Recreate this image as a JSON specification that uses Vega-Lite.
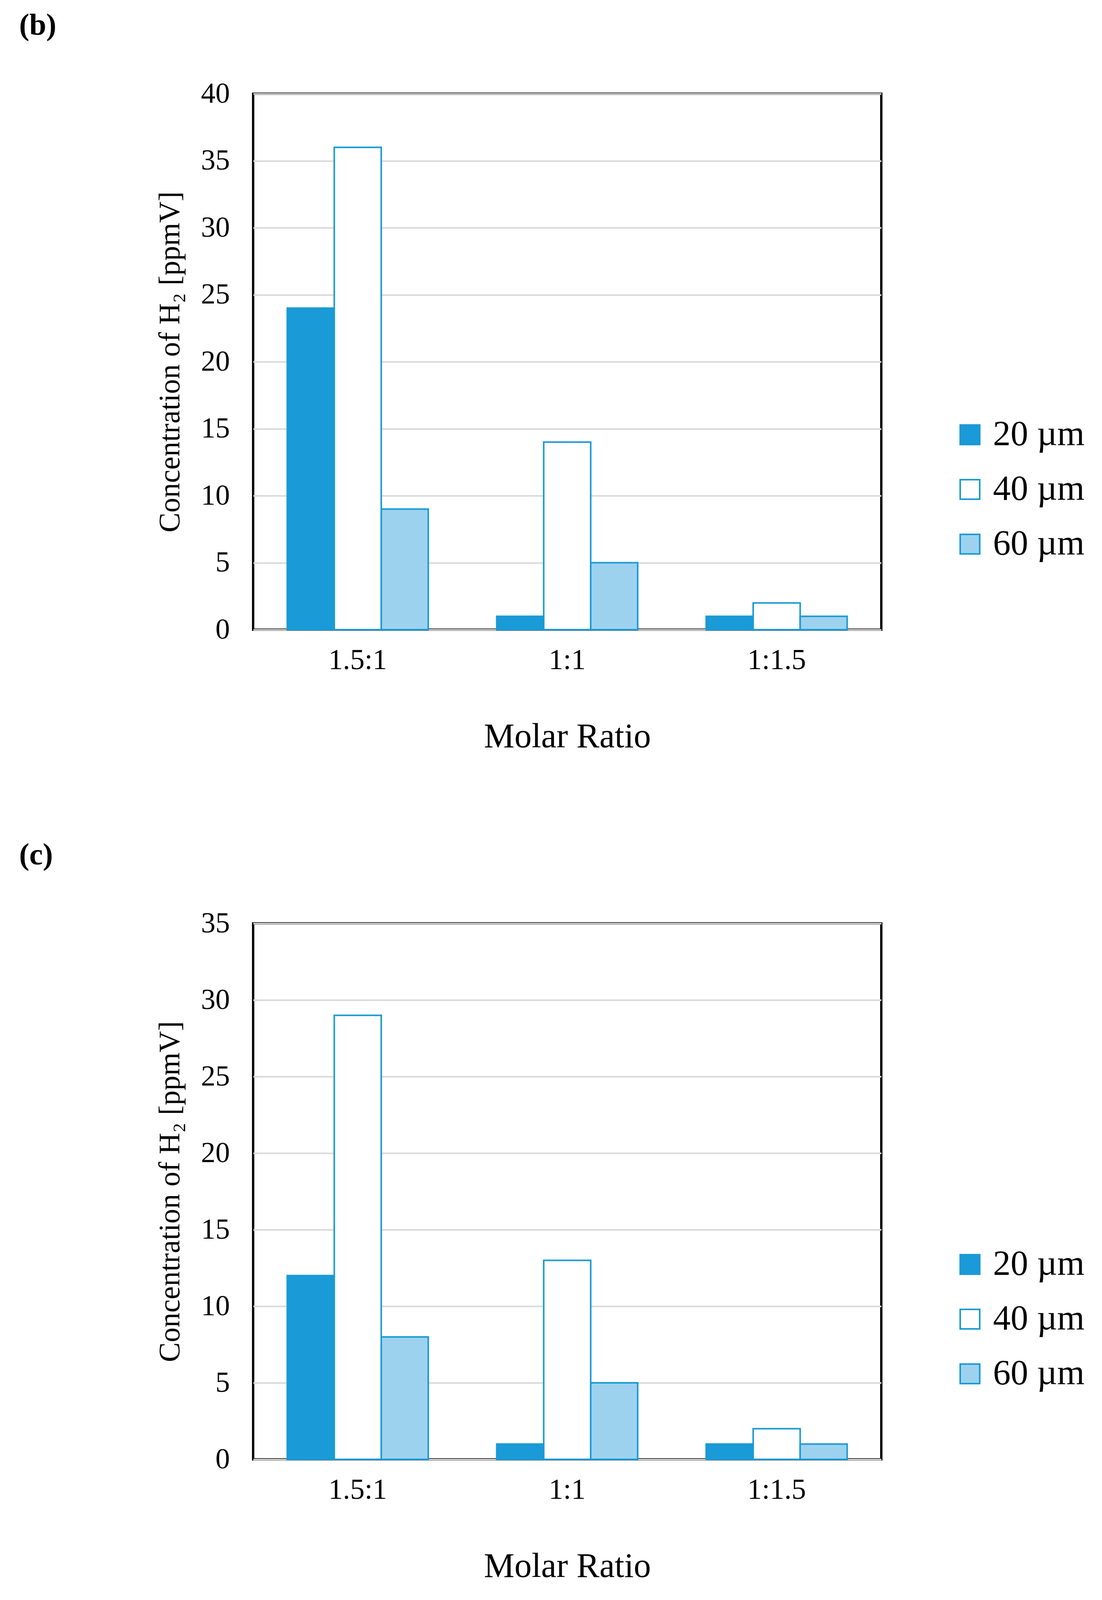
{
  "$schema": "https://vega.github.io/schema/vega-lite/v6.json",
  "background": "white",
  "padding": {"left": 46, "top": 24, "right": 0, "bottom": 0},
  "autosize": {"type": "pad"},
  "spacing": 215,
  "config": {
    "font": "Liberation Serif",
    "view": {"stroke": "black", "strokeWidth": 6},
    "axisY": {"labelFontSize": 74, "labelColor": "black", "labelFont": "Liberation Serif", "ticks": false, "domain": false, "labelPadding": 60, "gridColor": "#d9d9d9", "gridWidth": 4, "titleFontSize": 76, "titleFontWeight": "normal", "titleColor": "black", "titleFont": "Liberation Serif", "titlePadding": 40},
    "axisX": {"labelFontSize": 74, "labelColor": "black", "labelFont": "Liberation Serif", "ticks": false, "domain": false, "labelPadding": 42, "titleFontSize": 88, "titleFontWeight": "normal", "titleColor": "black", "titleFont": "Liberation Serif", "titlePadding": 115, "grid": false, "labelAngle": 0},
    "legend": {"orient": "none", "legendX": 1790, "legendY": 828, "symbolType": "square", "symbolSize": 2500, "symbolStrokeColor": "#1a9ad6", "symbolStrokeWidth": 4, "labelFontSize": 90, "labelFont": "Liberation Serif", "labelColor": "black", "labelLimit": 0, "rowPadding": 50, "labelOffset": 14, "padding": 0, "titleFontSize": 0}
  },
  "resolve": {"scale": {"x": "independent", "y": "independent"}, "legend": {"fill": "independent"}},
  "vconcat": [
    {
      "width": 1608,
      "height": 1372,
      "title": {"text": "(b)", "anchor": "start", "frame": "bounds", "dx": -348, "fontSize": 78, "fontWeight": "bold", "font": "Liberation Serif", "offset": 98, "color": "black"},
      "data": {"values": [
        {"ratio": "1.5:1", "size": "20 µm", "value": 24},
        {"ratio": "1.5:1", "size": "40 µm", "value": 36},
        {"ratio": "1.5:1", "size": "60 µm", "value": 9},
        {"ratio": "1:1", "size": "20 µm", "value": 1},
        {"ratio": "1:1", "size": "40 µm", "value": 14},
        {"ratio": "1:1", "size": "60 µm", "value": 5},
        {"ratio": "1:1.5", "size": "20 µm", "value": 1},
        {"ratio": "1:1.5", "size": "40 µm", "value": 2},
        {"ratio": "1:1.5", "size": "60 µm", "value": 1}
      ]},
      "mark": {"type": "bar", "stroke": "#1a9ad6", "strokeWidth": 4},
      "encoding": {
        "x": {"field": "ratio", "type": "nominal", "sort": ["1.5:1", "1:1", "1:1.5"], "scale": {"paddingInner": 0.327, "paddingOuter": 0.163}, "axis": {"title": "Molar Ratio"}},
        "xOffset": {"field": "size", "type": "nominal", "sort": ["20 µm", "40 µm", "60 µm"], "scale": {"paddingInner": 0, "paddingOuter": 0}},
        "y": {"field": "value", "type": "quantitative", "scale": {"domain": [0, 40]}, "axis": {"values": [0, 5, 10, 15, 20, 25, 30, 35, 40], "title": "Concentration of H₂ [ppmV]"}},
        "fill": {"field": "size", "type": "nominal", "sort": ["20 µm", "40 µm", "60 µm"], "scale": {"domain": ["20 µm", "40 µm", "60 µm"], "range": ["#1a9ad6", "#ffffff", "#9dd2ee"]}, "legend": {"title": null}}
      }
    },
    {
      "width": 1608,
      "height": 1372,
      "title": {"text": "(c)", "anchor": "start", "frame": "bounds", "dx": -348, "fontSize": 78, "fontWeight": "bold", "font": "Liberation Serif", "offset": 98, "color": "black"},
      "data": {"values": [
        {"ratio": "1.5:1", "size": "20 µm", "value": 12},
        {"ratio": "1.5:1", "size": "40 µm", "value": 29},
        {"ratio": "1.5:1", "size": "60 µm", "value": 8},
        {"ratio": "1:1", "size": "20 µm", "value": 1},
        {"ratio": "1:1", "size": "40 µm", "value": 13},
        {"ratio": "1:1", "size": "60 µm", "value": 5},
        {"ratio": "1:1.5", "size": "20 µm", "value": 1},
        {"ratio": "1:1.5", "size": "40 µm", "value": 2},
        {"ratio": "1:1.5", "size": "60 µm", "value": 1}
      ]},
      "mark": {"type": "bar", "stroke": "#1a9ad6", "strokeWidth": 4},
      "encoding": {
        "x": {"field": "ratio", "type": "nominal", "sort": ["1.5:1", "1:1", "1:1.5"], "scale": {"paddingInner": 0.327, "paddingOuter": 0.163}, "axis": {"title": "Molar Ratio"}},
        "xOffset": {"field": "size", "type": "nominal", "sort": ["20 µm", "40 µm", "60 µm"], "scale": {"paddingInner": 0, "paddingOuter": 0}},
        "y": {"field": "value", "type": "quantitative", "scale": {"domain": [0, 35]}, "axis": {"values": [0, 5, 10, 15, 20, 25, 30, 35], "title": "Concentration of H₂ [ppmV]"}},
        "fill": {"field": "size", "type": "nominal", "sort": ["20 µm", "40 µm", "60 µm"], "scale": {"domain": ["20 µm", "40 µm", "60 µm"], "range": ["#1a9ad6", "#ffffff", "#9dd2ee"]}, "legend": {"title": null}}
      }
    }
  ]
}
